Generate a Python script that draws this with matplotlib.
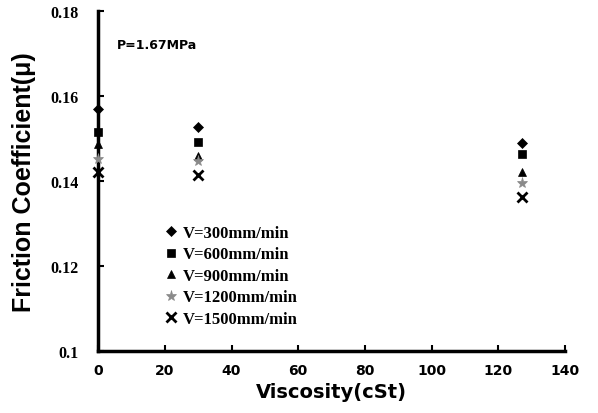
import numpy as np
import matplotlib
matplotlib.use("Agg")
import matplotlib.pyplot as plt

# viscosity of the lubricant (cSt) and friction coefficient per forming speed
viscosity = [0, 30, 127]
mu_300 = [0.1570, 0.1527, 0.1489]
mu_600 = [0.1515, 0.1492, 0.1464]
mu_900 = [0.1487, 0.1459, 0.1421]
mu_1200 = [0.1452, 0.1447, 0.1395]
mu_1500 = [0.1421, 0.1414, 0.1362]

labels = ["V=300mm/min", "V=600mm/min", "V=900mm/min",
          "V=1200mm/min", "V=1500mm/min"]
x_ticks = [0, 20, 40, 60, 80, 100, 120, 140]
y_ticks = [0.10, 0.12, 0.14, 0.16, 0.18]
y_tick_labels = ["0.1", "0.12", "0.14", "0.16", "0.18"]

fig = plt.figure(figsize=(5.98, 4.14), dpi=100)
ax = fig.add_axes([0.164, 0.150, 0.781, 0.821])

styles = [("D", "black", 5), ("s", "black", 6), ("^", "black", 6),
          ("*", "#8a8a8a", 8), ("x", "black", 7)]
series = [mu_300, mu_600, mu_900, mu_1200, mu_1500]
for vals, lbl, (m, c, ms) in zip(series, labels, styles):
    ax.plot(viscosity, vals, linestyle="none", marker=m, color=c,
            markersize=ms, markeredgewidth=2 if m == "x" else 0.5,
            label=lbl, clip_on=False, zorder=3)

ax.set_xlim(0, 140)
ax.set_ylim(0.1, 0.18)
ax.set_xticks(x_ticks)
ax.set_yticks(y_ticks)
ax.set_yticklabels(y_tick_labels)

for side in ["top", "right"]:
    ax.spines[side].set_visible(False)
for side in ["left", "bottom"]:
    ax.spines[side].set_linewidth(2.5)

ax.tick_params(axis="both", direction="in", length=4, width=1.5)
ax.tick_params(axis="x", pad=9)
ax.tick_params(axis="y", pad=14)
for t in ax.get_xticklabels():
    t.set_fontfamily("DejaVu Sans")
    t.set_fontweight("bold")
    t.set_fontsize(10)
for t in ax.get_yticklabels():
    t.set_fontfamily("Liberation Serif")
    t.set_fontweight("bold")
    t.set_fontsize(11.5)

ax.set_xlabel("Viscosity(cSt)", fontfamily="DejaVu Sans", fontweight="bold",
              fontsize=14, labelpad=3)
ax.set_ylabel("Friction Coefficient(\u03bc)",
              fontfamily=["Liberation Sans Narrow", "Liberation Sans"],
              fontweight="bold", fontsize=18, labelpad=10)

ax.text(0.04, 0.90, "P=1.67MPa", transform=ax.transAxes, va="center",
        fontfamily="DejaVu Sans", fontweight="bold", fontsize=9)

leg = ax.legend(loc="upper left", bbox_to_anchor=(0.10, 0.415), frameon=False,
                handletextpad=0.0, labelspacing=0.33, handlelength=1.4,
                prop={"family": "Liberation Serif", "weight": "bold", "size": 12})

fig.savefig("out.png", dpi=100)
